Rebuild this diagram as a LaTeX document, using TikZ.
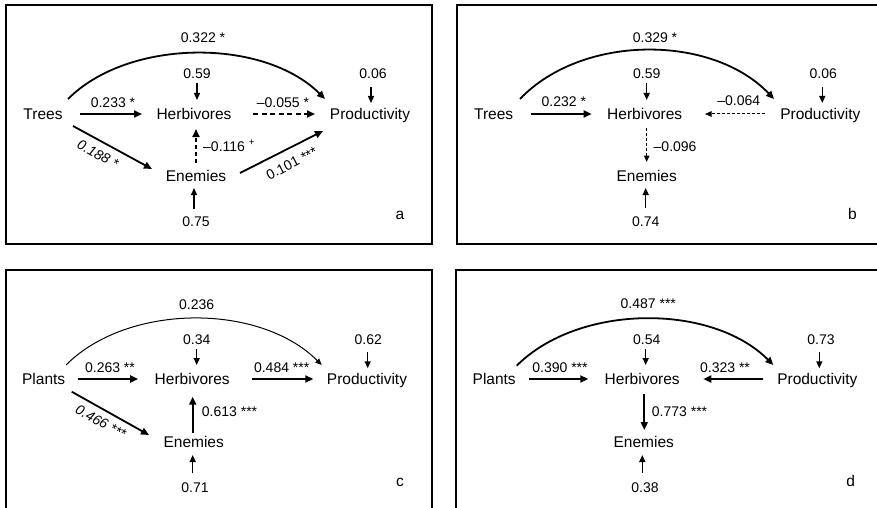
\documentclass[tikz,border=0pt]{standalone}
\usepackage{fontspec}
\setmainfont{Liberation Sans}
\usetikzlibrary{arrows.meta}
\begin{document}
\begin{tikzpicture}[x=1pt,y=-1pt,
  vname/.style={inner sep=0pt, font=\fontsize{15.5}{18}\selectfont, text height=11.1pt, text depth=0pt},
  num/.style={inner sep=0pt, font=\fontsize{14}{16}\selectfont, text height=10pt, text depth=0pt},
  numit/.style={num, font=\fontsize{14}{16}\selectfont\itshape},
  tag/.style={inner sep=0pt, font=\fontsize{15.5}{18}\selectfont, anchor=base},
  panel/.style={line width=2pt},
  bigarr/.style={line width=1.8pt, -{Triangle[length=8pt,width=7pt]}},
  resarr/.style={line width=1.4pt, -{Triangle[length=7pt,width=6pt]}},
  thinarr/.style={line width=1pt, -{Triangle[length=6.5pt,width=5.5pt]}},
  dsh/.style={dash pattern=on 5pt off 3.5pt},
  dshv/.style={dash pattern=on 4pt off 3pt},
  dshthin/.style={dash pattern=on 3pt off 2pt},
]
\useasboundingbox (0,0) rectangle (877,508);
\fill[white] (0,0) rectangle (877,508);
% panel frames
\draw[panel] (5.5,5) rectangle (432,244);
\draw[panel] (457,5) rectangle (890,244);
\draw[panel] (5.5,270) rectangle (432,520);
\draw[panel] (456,270) rectangle (890,520);

% ---------------- panel a
\node[vname] (Ta) at (43,114) {Trees};
\node[vname] (Ha) at (194,114) {Herbivores};
\node[vname] (Pa) at (370,114) {Productivity};
\node[vname] (Ea) at (196,176) {Enemies};
\node[num] (ra1) at (197,74) {0.59};
\node[num] (ra2) at (373,74) {0.06};
\node[num] (ra3) at (196,221) {0.75};
\node[tag] (la) at (400,219.3) {a};
\draw[bigarr] ([shift={(37,0)}]Ta.center) -- ([shift={(-52,0)}]Ha.center);
\draw[bigarr,dsh] ([shift={(59,0)}]Ha.center) -- ([shift={(-55,0)}]Pa.center);
\draw[bigarr] ([shift={(30,12)}]Ta.center) -- ([shift={(-44,-7)}]Ea.center);
\draw[bigarr] ([shift={(44,-3)}]Ea.center) -- ([shift={(-47,17)}]Pa.center);
\draw[bigarr,dshv] ([shift={(0,-13)}]Ea.center) -- ([shift={(2,15)}]Ha.center);
\draw[resarr] ([shift={(0,9)}]ra1.center) -- ([shift={(3,-14)}]Ha.center);
\draw[resarr] ([shift={(-2,13)}]ra2.center) -- ([shift={(1,-11)}]Pa.center);
\draw[resarr] ([shift={(-2,-12)}]ra3.center) -- ([shift={(-2,12)}]Ea.center);
\draw[bigarr] ([shift={(25,-15)}]Ta.center) .. controls +(61,-61) and +(-61,-61) .. ([shift={(-45,-15)}]Pa.center);
\node[num] (a1) at (203,38) {0.322 *};
\node[num] (a2) at (113,102) {0.233 *};
\node[num] (a3) at (283,102) {–0.055 *};
\node[numit, rotate=-28.6] (a4) at (98,154) {0.188 *};
\node[num, rotate=27] (a5) at (291.7,163.3) {0.101 ***};
\node[num, anchor=west] (a6) at (203,146) {–0.116 \textsuperscript{+}};

% ---------------- panel b
\node[vname] (Tb) at (493.7,114) {Trees};
\node[vname] (Hb) at (644.7,114) {Herbivores};
\node[vname] (Pb) at (820.3,114) {Productivity};
\node[vname] (Eb) at (646.7,176) {Enemies};
\node[num] (rb1) at (646.7,74) {0.59};
\node[num] (rb2) at (823.3,74) {0.06};
\node[num] (rb3) at (645.7,221) {0.74};
\node[tag] (lb) at (852.3,219) {b};
\draw[bigarr] ([shift={(37,0)}]Tb.center) -- ([shift={(-53,0)}]Hb.center);
\draw[thinarr,dshthin] ([shift={(-55.3,0)}]Pb.center) -- ([shift={(60.3,0)}]Hb.center);
\draw[thinarr,dshthin] ([shift={(2,14)}]Hb.center) -- ([shift={(0,-14)}]Eb.center);
\draw[resarr] ([shift={(0,9)}]rb1.center) -- ([shift={(2,-14)}]Hb.center);
\draw[resarr] ([shift={(-1,13)}]rb2.center) -- ([shift={(2,-11)}]Pb.center);
\draw[resarr] ([shift={(0,-13)}]rb3.center) -- ([shift={(-1,12)}]Eb.center);
\draw[bigarr] ([shift={(26.3,-15)}]Tb.center) .. controls +(62,-65) and +(-62,-65) .. ([shift={(-46.3,-15)}]Pb.center);
\node[num] (b1) at (655,38) {0.329 *};
\node[num] (b2) at (563.8,101.7) {0.232 *};
\node[num] (b3) at (738.8,100.7) {–0.064};
\node[num, anchor=west] (b4) at (653.5,146) {–0.096};

% ---------------- panel c
\node[vname] (Tc) at (43.7,379) {Plants};
\node[vname] (Hc) at (192.2,379) {Herbivores};
\node[vname] (Pc) at (367,379) {Productivity};
\node[vname] (Ec) at (193.7,442.3) {Enemies};
\node[num] (rc1) at (196.7,339.3) {0.34};
\node[num] (rc2) at (368.3,339) {0.62};
\node[num] (rc3) at (195,487.3) {0.71};
\node[tag] (lc) at (400,486.7) {c};
\draw[bigarr] ([shift={(34,0)}]Tc.center) -- ([shift={(-54,0)}]Hc.center);
\draw[bigarr] ([shift={(59.5,0)}]Hc.center) -- ([shift={(-53.7,0)}]Pc.center);
\draw[bigarr] ([shift={(28,12.7)}]Tc.center) -- ([shift={(-44.7,-7.3)}]Ec.center);
\draw[bigarr] ([shift={(-1,-9.6)}]Ec.center) -- ([shift={(0.5,17.7)}]Hc.center);
\draw[resarr] ([shift={(0,9.7)}]rc1.center) -- ([shift={(4.5,-14)}]Hc.center);
\draw[resarr] ([shift={(-0.6,12.7)}]rc2.center) -- ([shift={(0.7,-10.7)}]Pc.center);
\draw[resarr] ([shift={(-2.3,-14)}]rc3.center) -- ([shift={(-1,12.7)}]Ec.center);
\draw[thinarr] ([shift={(22.3,-14)}]Tc.center) .. controls +(62,-62) and +(-62,-62) .. ([shift={(-45.3,-14)}]Pc.center);
\node[num] (c1) at (196.7,304) {0.236};
\node[num] (c2) at (110,367.7) {0.263 **};
\node[num] (c3) at (281.7,367.7) {0.484 ***};
\node[numit, rotate=-29.3] (c4) at (101,421.7) {0.466 ***};
\node[num, anchor=west] (c5) at (201.7,411.7) {0.613 ***};

% ---------------- panel d
\node[vname] (Td) at (494.2,379) {Plants};
\node[vname] (Hd) at (642.2,379) {Herbivores};
\node[vname] (Pd) at (817.3,379) {Productivity};
\node[vname] (Ed) at (643.8,442.3) {Enemies};
\node[num] (rd1) at (646.7,339.3) {0.54};
\node[num] (rd2) at (821,339) {0.73};
\node[num] (rd3) at (645,487.3) {0.38};
\node[tag] (ld) at (850.7,486.7) {d};
\draw[bigarr] ([shift={(35.1,0)}]Td.center) -- ([shift={(-53.9,0)}]Hd.center);
\draw[bigarr] ([shift={(-54,0)}]Pd.center) -- ([shift={(61.1,0)}]Hd.center);
\draw[bigarr] ([shift={(2.1,15)}]Hd.center) -- ([shift={(0.5,-12.3)}]Ed.center);
\draw[resarr] ([shift={(-1,9.7)}]rd1.center) -- ([shift={(3.5,-14)}]Hd.center);
\draw[resarr] ([shift={(-1.7,12.7)}]rd2.center) -- ([shift={(2,-10.7)}]Pd.center);
\draw[resarr] ([shift={(-2.7,-14.6)}]rd3.center) -- ([shift={(-1.5,12.7)}]Ed.center);
\draw[bigarr] ([shift={(22.5,-13.3)}]Td.center) .. controls +(62,-62) and +(-62,-62) .. ([shift={(-44,-14)}]Pd.center);
\node[num] (d1) at (648.3,303.3) {0.487 ***};
\node[num] (d2) at (560,367.7) {0.390 ***};
\node[num] (d3) at (725,367.7) {0.323 **};
\node[num, anchor=west] (d4) at (651.7,411.7) {0.773 ***};
\end{tikzpicture}
\end{document}
